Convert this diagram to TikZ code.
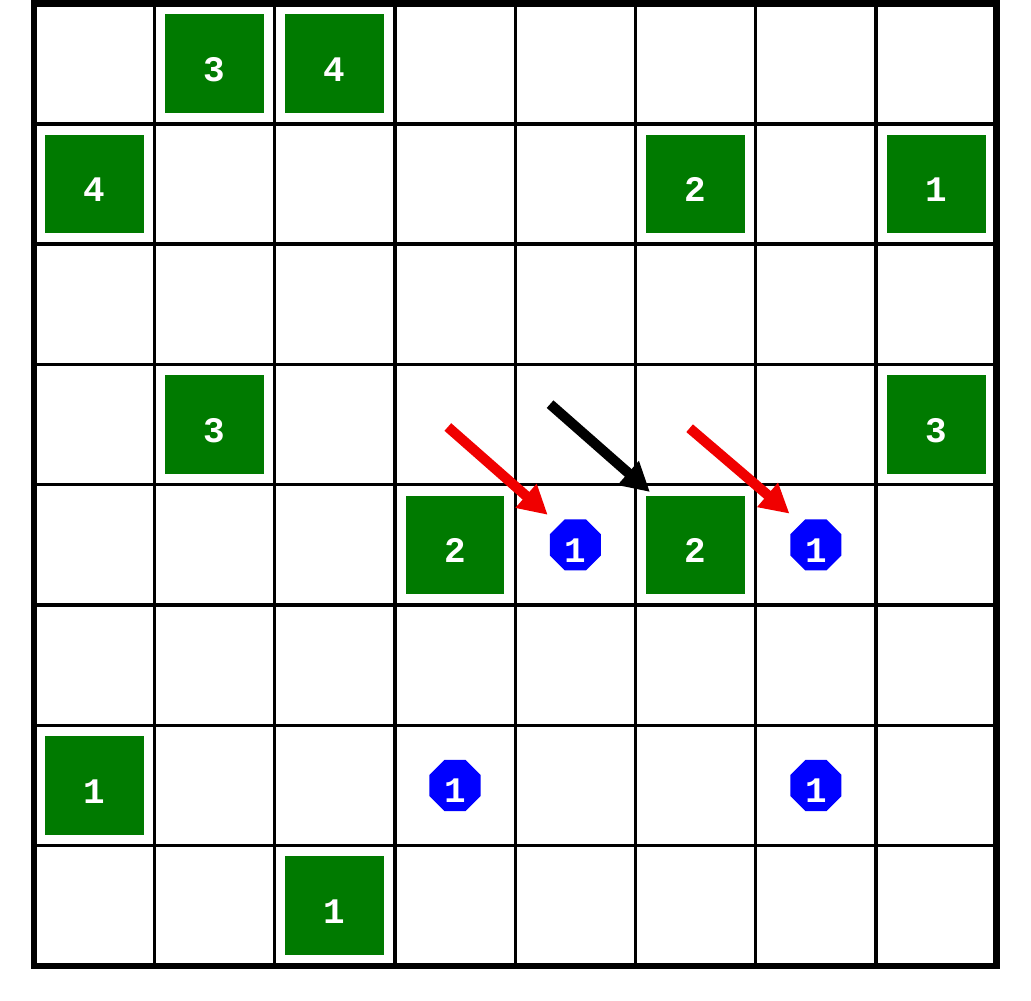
\documentclass[tikz,border=0pt]{standalone}
\usepackage{fontspec}
\usepackage{xcolor}
\usetikzlibrary{positioning,shapes.geometric,arrows.meta}
\newfontfamily\cellfont{Liberation Mono}
\definecolor{cellgreen}{RGB}{0,122,0}
\definecolor{hintred}{RGB}{240,0,0}

\begin{document}
\begin{tikzpicture}[
	sq/.style={rectangle, fill=cellgreen, minimum size=0.82cm, inner sep=0pt, text=white, text height=8.4pt, text depth=0pt, font=\cellfont\bfseries\fontsize{8.5}{8.5}\selectfont},
	oct/.style={regular polygon, regular polygon sides=8, fill=blue, minimum size=0.46cm, inner sep=0pt, text=white, text height=8.2pt, text depth=0pt, font=\cellfont\bfseries\fontsize{8.5}{8.5}\selectfont},
	pointer/.style={line width=2.4pt, -{Triangle[length=0.24cm, width=0.25cm]}}
]
			\useasboundingbox (-0.283,-0.291) rectangle (8.288,8.03);
			\draw[line width=0.8pt] (0,0) grid (8,8);
			\draw[line width=1.5pt] (0,0) rectangle (8,8);
			
			\node[sq] (28) at (1.5,7.5) {3};
			\node[sq] (38) at (2.5,7.5) {4};
			\node[sq] (17) at (0.5,6.5) {4};
			\node[sq] (67) at (5.5,6.5) {2};
			\node[sq] (87) at (7.5,6.5) {1};
			\node[sq] (25) at (1.5,4.5) {3};
			\node[sq] (85) at (7.5,4.5) {3};
			\node[sq] (44) at (3.5,3.5) {2};
			\node[oct] (54) at (4.5,3.5) {1};
			\node[sq] (64) at (5.5,3.5) {2};
			\node[oct] (74) at (6.5,3.5) {1};
			\node[sq] (12) at (0.5,1.5) {1};
			\node[oct] (42) at (3.5,1.5) {1};
			\node[oct] (72) at (6.5,1.5) {1};
			\node[sq] (31) at (2.5,0.5) {1};
			
			\coordinate (a1) at (3.44,4.48);
			\coordinate (b1) at (4.27,3.75);
			\coordinate (a2) at (4.29,4.67);
			\coordinate (b2) at (5.12,3.94);
			\coordinate (a3) at (5.45,4.47);
			\coordinate (b3) at (6.28,3.76);
			
			\draw[pointer, hintred] (a1) -- (b1);
			\draw[pointer, black] (a2) -- (b2);
			\draw[pointer, hintred] (a3) -- (b3);
		\end{tikzpicture}
\end{document}
